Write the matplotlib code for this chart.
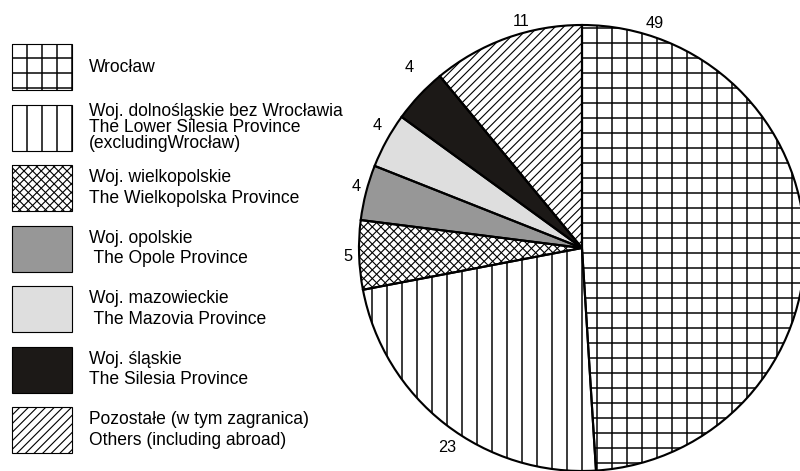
import numpy as np
import matplotlib
matplotlib.use('Agg')
import matplotlib.pyplot as plt
from matplotlib.patches import Rectangle
from matplotlib.collections import LineCollection
from matplotlib.transforms import IdentityTransform

plt.rcParams['font.family'] = ['Liberation Sans', 'DejaVu Sans']

# dane
values = [49, 23, 5, 4, 4, 4, 11]
labels = [
    'Wrocław',
    'Woj. dolnośląskie bez Wrocławia\nThe Lower Silesia Province\n(excludingWrocław)',
    'Woj. wielkopolskie\nThe Wielkopolska Province',
    'Woj. opolskie\n The Opole Province',
    'Woj. mazowieckie\n The Mazovia Province',
    'Woj. śląskie\nThe Silesia Province',
    'Pozostałe (w tym zagranica)\nOthers (including abroad)',
]
colors = ['white', 'white', 'white', '#979797', '#dedede', '#1c1917', 'white']
hatches = ['+', '|', 'x', '', '', '', '/']

# polozenie etykiet liczbowych (kat w stopniach, odleglosc w promieniach)
label_pos = [(72, 1.06), (236, 1.08), (182, 1.05), (164.8, 1.05),
             (149, 1.07), (133.7, 1.12), (105, 1.05)]
line_sp = [1.2, 0.96, 1.3, 1.3, 1.3, 1.3, 1.3]

W, H, DPI = 800, 471, 90
fig = plt.figure(figsize=(W / DPI, H / DPI), dpi=DPI)
fs = 14


def hatch_lines(ax, patch, kind):
    # kreskowanie rysowane w pikselach, przyciete do ksztaltu
    segs = []
    if kind in ('+', '|'):
        for x in np.arange(12, W + 1, 15.0):
            segs.append([(x, -10), (x, H + 10)])
    if kind == '+':
        for y in np.arange(8, H + 1, 15.0):
            segs.append([(-10, y), (W + 10, y)])
    if kind in ('/', 'x'):
        for c in np.arange(-H - 20, W + 20, 8.6):
            segs.append([(c - 20, -20), (c + H + 20, H + 20)])
    if kind == 'x':
        for c in np.arange(-20, W + H + 20, 8.6):
            segs.append([(c + 20, -20), (c - H - 20, H + 20)])
    if not segs:
        return
    lw = 1.2 if kind in ('+', '|') else 0.9
    lc = LineCollection(segs, colors='black', linewidths=lw, transform=IdentityTransform(),
                        zorder=1.5)
    ax.add_collection(lc, autolim=False)
    lc.set_clip_path(patch)


# legenda rysowana recznie
lax = fig.add_axes([0, 0, 1, 1])
lax.set_xlim(0, W)
lax.set_ylim(H, 0)
lax.axis('off')
for i, lab in enumerate(labels):
    y0 = 44 + i * 60.5
    box = Rectangle((12, y0), 60, 46, facecolor=colors[i], edgecolor='none', zorder=1)
    lax.add_patch(box)
    hatch_lines(lax, box, hatches[i])
    lax.add_patch(Rectangle((12, y0), 60, 46, fill=False, edgecolor='black',
                            linewidth=0.9, zorder=2))
    lax.text(89, y0 + 23, lab, fontsize=fs, va='center', ha='left',
             linespacing=line_sp[i])

# wykres kolowy
r_px = 223
cx, cy = 582, 248
ax = fig.add_axes([(cx - r_px) / W, (H - cy - r_px) / H, 2 * r_px / W, 2 * r_px / H])
wedges, _ = ax.pie(values, colors=colors, startangle=90, counterclock=False,
                   wedgeprops=dict(edgecolor='none', linewidth=0))
for w, h in zip(wedges, hatches):
    hatch_lines(ax, w, h)
ax.pie(values, startangle=90, counterclock=False,
       wedgeprops=dict(fill=False, edgecolor='black', linewidth=1.7, zorder=3))
ax.set_xlim(-1, 1)
ax.set_ylim(-1, 1)
for v, (ang, d) in zip(values, label_pos):
    a = np.deg2rad(ang)
    ax.text(d * np.cos(a), d * np.sin(a), str(v), fontsize=13, ha='center', va='center')

fig.savefig('out.png', dpi=DPI)
